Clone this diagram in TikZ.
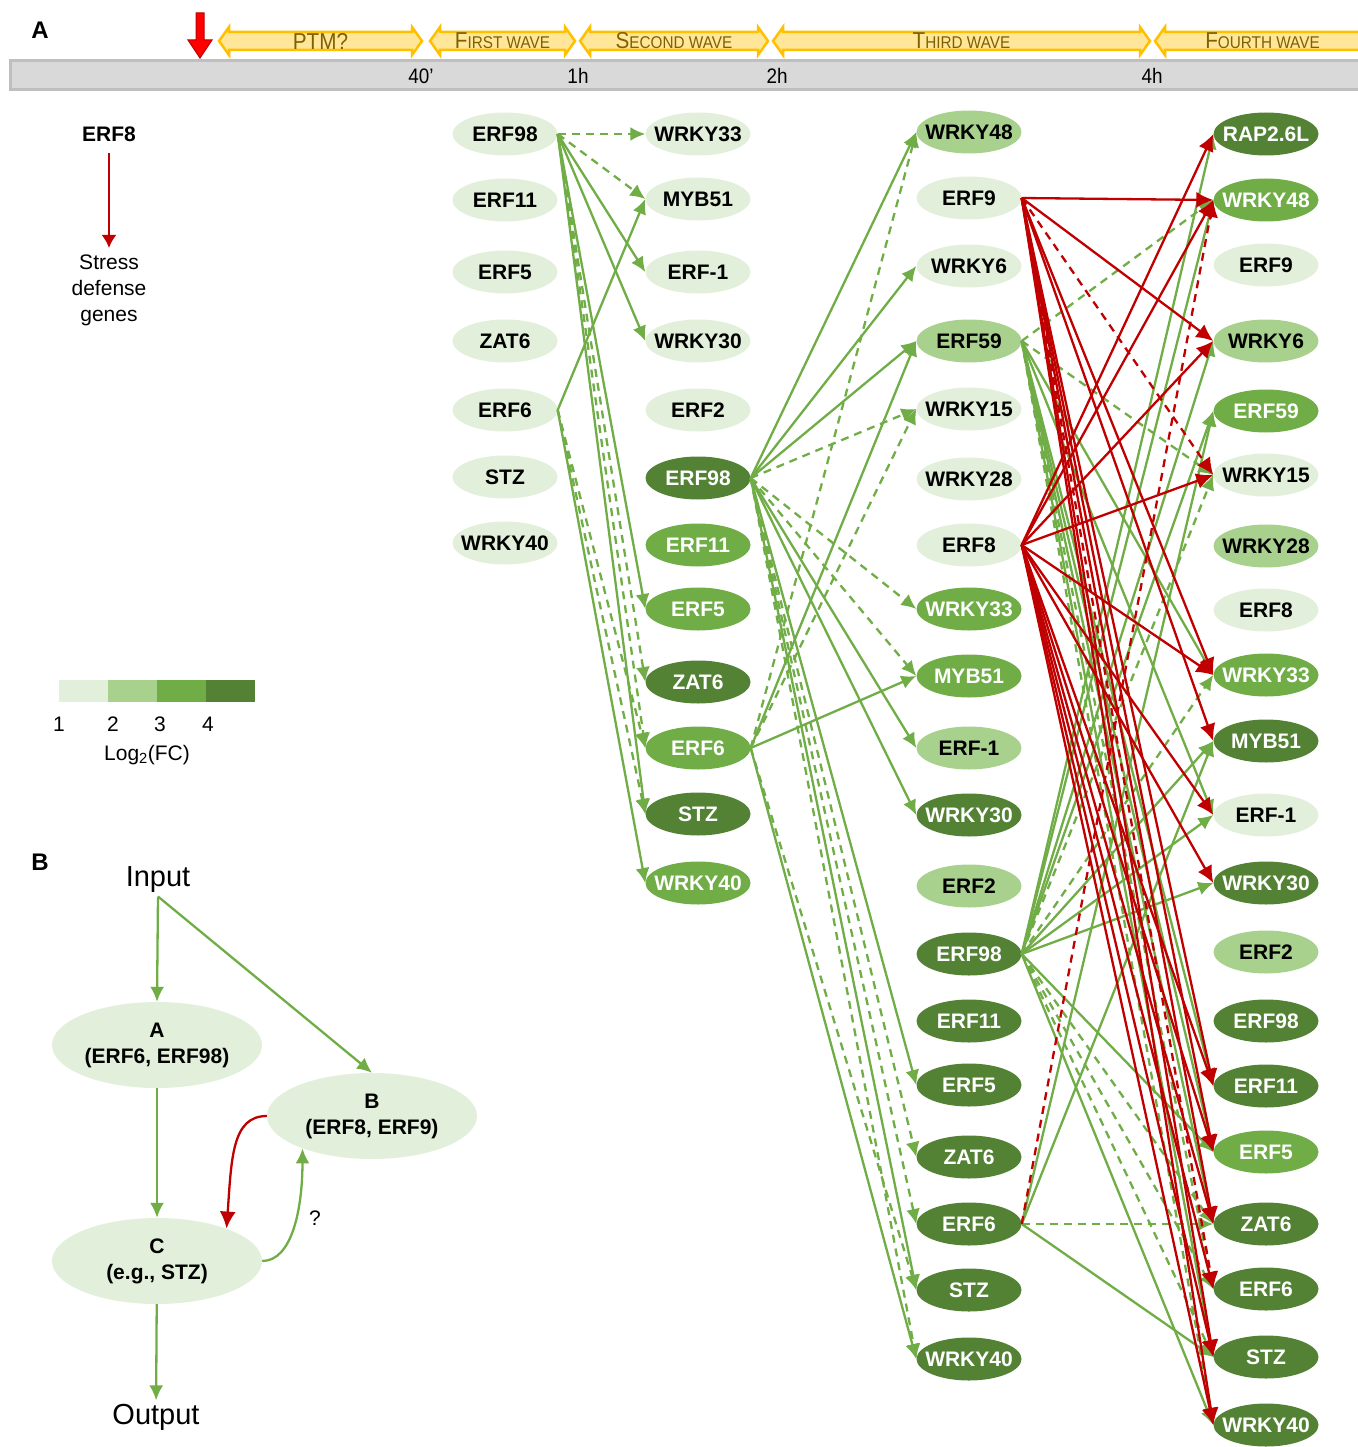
\documentclass[tikz,border=0pt]{standalone}
\usepackage{fontspec}
\setmainfont{Liberation Sans}
\newfontfamily\schmal[FakeStretch=0.9]{Liberation Sans}
\usetikzlibrary{arrows.meta, shapes.geometric, positioning}

% Farben fuer log2(FC)
\definecolor{fc1}{HTML}{E2EFDA}
\definecolor{fc2}{HTML}{A9D18E}
\definecolor{fc3}{HTML}{70AD47}
\definecolor{fc4}{HTML}{548235}
\colorlet{fctext1}{black}
\colorlet{fctext2}{black}
\colorlet{fctext3}{white}
\colorlet{fctext4}{white}
\definecolor{aktiv}{HTML}{70AD47}
\definecolor{hemm}{HTML}{C00000}
\definecolor{wellefill}{HTML}{FFE699}
\definecolor{wellerand}{HTML}{FFC000}
\definecolor{welletext}{HTML}{7F6000}
\definecolor{balken}{HTML}{D9D9D9}
\definecolor{balkenrand}{HTML}{BFBFBF}

\newcommand{\kap}[2]{{\fontsize{23}{23}\selectfont #1}{\fontsize{17}{17}\selectfont #2}}
\newcommand{\welle}[4]{%
  \draw[welle] (#1,41) -- (#1+10,27) -- (#1+10,32) -- (#2-10,32) -- (#2-10,27) -- (#2,41)
    -- (#2-10,55) -- (#2-10,50) -- (#1+10,50) -- (#1+10,55) -- cycle;
  \node[wellenlabel] (w#1) at ({(#1+#2)/2},41) {\kap{#3}{#4}};}

\begin{document}
\begin{tikzpicture}[x=1pt, y=-1pt,
		>={Latex[length=15pt,width=14pt]},   %Pfeilspitzen
		gen/.style={ellipse, fill=fc#1, text=fctext#1, minimum width=105pt, minimum height=43pt,
			inner xsep=-12pt, inner ysep=0pt, font=\fontsize{21}{21}\selectfont\bfseries},
		modul/.style={ellipse, fill=fc1, minimum width=210pt, minimum height=86pt, inner sep=0pt,
			align=center, font=\fontsize{21}{26}\selectfont\bfseries},
		akt/.style={->, draw=aktiv, line width=2.3pt},
		aktg/.style={akt, dash pattern=on 8pt off 6pt},
		hem/.style={-{Latex[length=17pt,width=16pt]}, draw=hemm, line width=2.3pt},
		hemg/.style={hem, dash pattern=on 8pt off 6pt},
		welle/.style={fill=wellefill, draw=wellerand, line width=2.5pt},
		wellenlabel/.style={text=welletext, font=\schmal, inner sep=0pt},
		zeit/.style={font=\schmal\fontsize{21}{21}\selectfont},
		txt/.style={font=\fontsize{21}{26}\selectfont, align=center},
		gross/.style={font=\fontsize{29}{29}\selectfont}]
		\useasboundingbox (0,0) rectangle (1357,1447);
		%Zeitachse
		\draw[fill=balken, draw=balkenrand, line width=3pt] (10,61) rectangle (1380,90);
		\foreach \t/\x in {40’/421, 1h/578, 2h/777, 4h/1152}
			\node[zeit] (t\x) at (\x,76) {\t};
		\welle{219}{422}{PTM?}{}
		\welle{430}{575}{F}{IRST WAVE}
		\welle{580}{768}{S}{ECOND WAVE}
		\welle{773}{1150}{T}{HIRD WAVE}
		\welle{1155}{1370}{F}{OURTH WAVE}
		\draw[fill=red, draw=hemm, line width=1pt] (196,13) -- (204,13) -- (204,40) -- (212,40)
			-- (200,58) -- (188,40) -- (196,40) -- cycle;
		% Panelbuchstaben
		\node[font=\fontsize{24}{24}\selectfont\bfseries] (panA) at (40,30) {A};
		\node[font=\fontsize{24}{24}\selectfont\bfseries] (panB) at (40,862) {B};
		% Legende
		\node[font=\fontsize{21}{21}\selectfont\bfseries] (lERF8) at (109,134) {ERF8};
		\node[txt] (lZiel) at (109,290) {Stress\\defense\\genes};
		\draw[hem, -{Latex[length=13pt,width=15pt]}, line width=2pt, shorten <=8pt, shorten >=3pt] (lERF8) -- (lZiel);
		\foreach \i in {1,...,4}
			\fill[fc\i] ({59+49*(\i-1)},680) rectangle ++(49,22);
		\foreach \i/\x in {1/59, 2/113, 3/160, 4/208}
			\node[txt] (z\i) at (\x,724) {\i};
		\node[txt] (lTitel) at (147,755) {Log\textsubscript{2}(FC)};
		% Spalte 1
		\foreach \n/\y in {ERF98/134, ERF11/200, ERF5/272, ZAT6/341, ERF6/410, STZ/477, WRKY40/543}
			\node[gen=1] (a\n) at (505,\y) {\n};
		% Spalte 2
		\foreach \n/\y/\s in {WRKY33/134/1, MYB51/199/1, ERF-1/272/1, WRKY30/341/1, ERF2/410/1,
				ERF98/478/4, ERF11/545/3, ERF5/609/3, ZAT6/682/4, ERF6/748/3, STZ/814/4, WRKY40/883/3}
			\node[gen=\s] (b\n) at (698,\y) {\n};
		% Spalte 3
		\foreach \n/\y/\s in {WRKY48/132/2, ERF9/198/1, WRKY6/266/1, ERF59/341/2, WRKY15/409/1,
				WRKY28/479/1, ERF8/545/1, WRKY33/609/3, MYB51/676/3, ERF-1/748/2, WRKY30/815/4,
				ERF2/886/2, ERF98/954/4, ERF11/1021/4, ERF5/1085/4, ZAT6/1157/4, ERF6/1224/4,
				STZ/1290/4, WRKY40/1359/4}
			\node[gen=\s] (c\n) at (969,\y) {\n};
		% Spalte 4
		\node[gen=4] (dRAP) at (1266,134) {RAP2.6L};
		\foreach \n/\y/\s in {WRKY48/200/3, ERF9/265/1, WRKY6/341/2, ERF59/411/3, WRKY15/475/1,
				WRKY28/546/2, ERF8/610/1, WRKY33/675/3, MYB51/741/4, ERF-1/815/1, WRKY30/883/4,
				ERF2/952/2, ERF98/1021/4, ERF11/1086/4, ERF5/1152/3, ZAT6/1224/4, ERF6/1289/4,
				STZ/1357/4, WRKY40/1425/4}
			\node[gen=\s] (d\n) at (1266,\y) {\n};
		% erste Welle
		\foreach \z in {WRKY33, MYB51, ZAT6, ERF6} \draw[aktg] (aERF98.east) -- (b\z.west);
		\foreach \z in {ERF-1, WRKY30, ERF5, STZ} \draw[akt] (aERF98.east) -- (b\z.west);
		\foreach \z in {MYB51, WRKY40} \draw[akt] (aERF6.east) -- (b\z.west);
		\foreach \z in {ERF6, STZ} \draw[aktg] (aERF6.east) -- (b\z.west);
		% zweite Welle
		\foreach \z in {WRKY48, WRKY6, ERF59, ERF-1, WRKY30, ERF5, STZ} \draw[akt] (bERF98.east) -- (c\z.west);
		\foreach \z in {WRKY15, WRKY33, MYB51, ZAT6, ERF6, WRKY40} \draw[aktg] (bERF98.east) -- (c\z.west);
		\foreach \z in {MYB51, ERF59, WRKY40} \draw[akt] (bERF6.east) -- (c\z.west);
		\foreach \z in {WRKY48, WRKY15, STZ} \draw[aktg] (bERF6.east) -- (c\z.west);
		% dritte Welle, gruen
		\foreach \z in {WRKY48, WRKY15, ERF6, WRKY40} \draw[aktg] (cERF59.east) -- (d\z.west);
		\foreach \z in {WRKY33, ERF-1, ERF11, ERF5, ZAT6, STZ} \draw[akt] (cERF59.east) -- (d\z.west);
		\draw[akt] (cERF98.east) -- (dRAP.west);
		\foreach \z in {WRKY48, WRKY6, ERF59, MYB51, ERF-1, WRKY30, ERF5, WRKY40} \draw[akt] (cERF98.east) -- (d\z.west);
		\foreach \z in {WRKY15, WRKY33, ZAT6, ERF6, STZ} \draw[aktg] (cERF98.east) -- (d\z.west);
		\foreach \z in {ERF59, MYB51, STZ} \draw[akt] (cERF6.east) -- (d\z.west);
		\draw[aktg] (cERF6.east) -- (dZAT6.west);
		% dritte Welle, rot
		\foreach \z in {WRKY48, WRKY6, WRKY33, MYB51, ERF11, ERF5, ZAT6, STZ, WRKY40} \draw[hem] (cERF9.east) -- (d\z.west);
		\foreach \z in {WRKY15, ERF6} \draw[hemg] (cERF9.east) -- (d\z.west);
		\draw[hem] (cERF8.east) -- (dRAP.west);
		\foreach \z in {WRKY48, WRKY6, WRKY15, WRKY33, ERF-1, WRKY30, ERF11, ERF5, ZAT6, ERF6, STZ, WRKY40} \draw[hem] (cERF8.east) -- (d\z.west);
		\draw[hemg] (cERF6.east) -- (dWRKY48.west);
		% Teil B
		\node[gross] (eing) at (158,880) {Input};
		\node[modul] (mA) at (157,1045) {A\\(ERF6, ERF98)};
		\node[modul] (mB) at (372,1116) {B\\(ERF8, ERF9)};
		\node[modul] (mC) at (157,1261) {C\\(e.g., STZ)};
		\node[gross] (ausg) at (156,1417) {Output};
		\node[txt] (frage) at (315,1218) {?};
		\draw[akt] (eing.south) -- (mA.north);
		\draw[akt] (eing.south) -- (mB.north);
		\draw[akt] (mA) -- (mC);
		\draw[akt] (mC) -- (ausg);
		\draw[hem] (mB.west) .. controls +(-35,0) and +(5,-70) .. (mC.25);
		\draw[akt] (mC.east) .. controls +(30,0) and +(0,60) .. (mB.205);
	\end{tikzpicture}
\end{document}
